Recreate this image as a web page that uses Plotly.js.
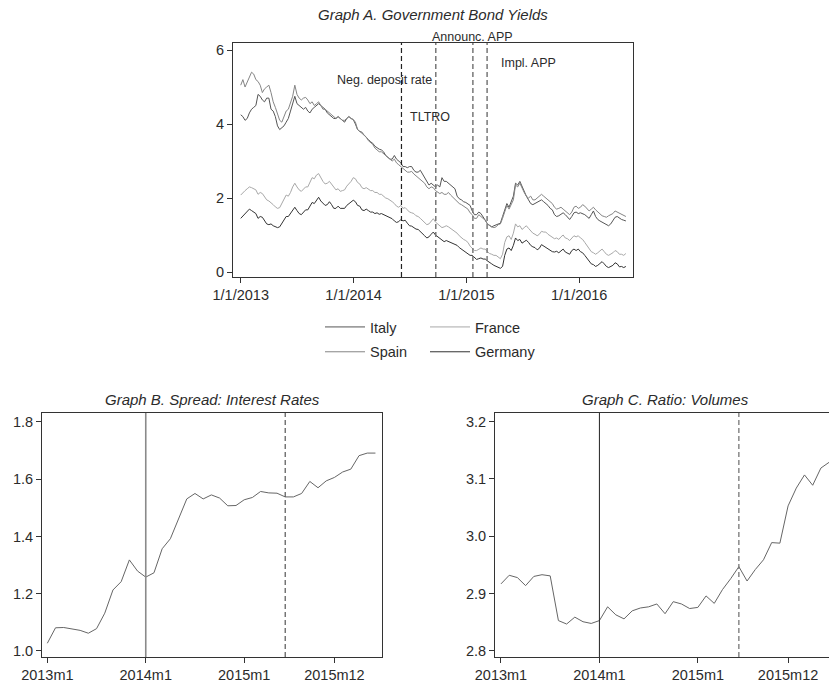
<!DOCTYPE html>
<html><head><meta charset="utf-8">
<script src="https://cdn.plot.ly/plotly-3.0.1.min.js"></script>
<style>html,body{margin:0;padding:0;overflow:hidden;background:#fff}#chart{width:845px;height:686px}</style>
</head><body><div id="chart"></div><script>
// ---------- Graph A: government bond yields (weekly readings from 2013-01-01) ----------
const yieldStart = '2013-01-01';
const italy = [
  4.25,4.20,4.10,4.15,4.30, 4.40,4.45,4.50,4.80, 4.75,4.65,4.60,4.70, 4.70,4.40,4.35,4.20,3.95, 3.85,3.90,3.95,4.05,
  4.15,4.35,4.55,4.75, 4.55,4.50,4.45,4.40,4.45, 4.35,4.30,4.40,4.45, 4.50,4.55,4.50,4.45, 4.40,4.30,4.25,4.20,4.15,
  4.15,4.20,4.15,4.10, 4.05,4.15,4.20,4.15,4.12,
  4.00,3.85,3.80,3.78, 3.70,3.65,3.58,3.52, 3.48,3.40,3.35,3.32, 3.30,3.25,3.15,3.10,3.05, 3.05,3.15,3.05,3.00,
  2.95,2.85,2.85,2.82, 2.85,2.85,2.75,2.70,2.70, 2.75,2.65,2.55,2.45, 2.35,2.40,2.35,2.30,2.35, 2.30,2.55,2.45,2.45,
  2.40,2.35,2.30,2.25, 2.05,1.98,1.95,1.90,1.88,
  1.85,1.80,1.65,1.55, 1.55,1.62,1.58,1.50, 1.40,1.30,1.25,1.22,1.25, 1.28,1.30,1.32,1.50, 1.70,1.85,1.75,1.90,
  2.05,2.40,2.35,2.45,2.30, 2.15,2.05,1.95,1.85, 1.82,1.85,1.88,1.92, 1.95,1.90,1.85,1.80,1.72, 1.68,1.55,1.50,1.52,
  1.55,1.60,1.55,1.48, 1.42,1.50,1.60,1.62,1.58,
  1.60,1.58,1.55,1.50, 1.45,1.55,1.65,1.50, 1.42,1.38,1.35,1.30,1.28, 1.25,1.30,1.40,1.48, 1.50,1.45,1.42,1.40,1.38];
const spain = [
  5.05,5.20,5.00,5.15,5.30, 5.40,5.35,5.20,5.15, 5.05,4.85,4.95,5.00, 5.05,4.85,4.60,4.45,4.25, 4.10,4.05,4.20,4.35,
  4.40,4.55,4.75,5.05, 4.80,4.70,4.65,4.70,4.72, 4.65,4.55,4.60,4.50, 4.55,4.60,4.50,4.40, 4.40,4.35,4.30,4.25,4.20,
  4.15,4.20,4.15,4.10, 4.10,4.15,4.20,4.15,4.12,
  4.05,3.85,3.80,3.75, 3.72,3.65,3.55,3.50, 3.45,3.35,3.30,3.25, 3.25,3.20,3.15,3.10,3.05, 3.00,3.05,2.95,2.90,
  2.85,2.80,2.75,2.70, 2.70,2.72,2.65,2.60,2.55, 2.50,2.45,2.40,2.30, 2.25,2.30,2.28,2.20,2.15, 2.12,2.15,2.10,2.10,
  2.15,2.08,2.02,1.98, 1.92,1.85,1.82,1.78,1.75,
  1.70,1.60,1.55,1.45, 1.45,1.55,1.50,1.45, 1.40,1.30,1.25,1.22,1.20, 1.22,1.28,1.30,1.45, 1.65,1.80,1.70,1.85,
  1.95,2.35,2.30,2.40,2.25, 2.15,2.05,2.00,2.05, 1.95,1.95,2.00,2.05, 2.10,2.05,2.00,1.95,1.90, 1.85,1.75,1.70,1.72,
  1.75,1.70,1.65,1.60, 1.55,1.62,1.75,1.78,1.72,
  1.75,1.82,1.78,1.72, 1.65,1.70,1.75,1.68, 1.62,1.58,1.52,1.50,1.48, 1.52,1.55,1.58,1.65, 1.62,1.58,1.55,1.52,1.50];
const france = [
  2.08,2.15,2.20,2.25,2.30, 2.28,2.25,2.22,2.10, 2.15,2.12,2.02,1.95, 1.92,1.88,1.82,1.76,1.72, 1.74,1.85,1.98,2.08,
  2.05,2.15,2.30,2.40, 2.30,2.22,2.18,2.25,2.30, 2.30,2.42,2.55,2.52, 2.62,2.66,2.55,2.45, 2.38,2.40,2.45,2.38,2.28,
  2.22,2.25,2.18,2.20, 2.22,2.32,2.38,2.45,2.55,
  2.52,2.42,2.38,2.28, 2.25,2.28,2.25,2.20, 2.20,2.15,2.15,2.10, 2.10,2.05,2.00,1.98,1.95, 1.90,1.85,1.78,1.75,
  1.80,1.72,1.74,1.68, 1.62,1.60,1.58,1.52,1.50, 1.45,1.40,1.35,1.28, 1.30,1.38,1.44,1.35,1.30, 1.25,1.20,1.22,1.25,
  1.22,1.18,1.15,1.10, 1.05,0.98,0.92,0.88,0.85,
  0.80,0.70,0.65,0.58, 0.58,0.62,0.65,0.62, 0.62,0.55,0.50,0.48,0.45, 0.45,0.40,0.36,0.48, 0.80,0.95,0.98,0.88,
  1.05,1.30,1.22,1.25,1.15, 1.20,1.25,1.18,1.10, 1.05,1.02,0.98,1.02, 1.10,1.08,1.08,1.02,0.98, 0.95,0.90,0.92,0.88,
  0.95,1.00,0.92,0.90, 0.85,0.92,0.98,0.95,0.98,
  0.92,0.88,0.80,0.72, 0.65,0.55,0.52,0.48, 0.52,0.58,0.62,0.55,0.48, 0.45,0.48,0.52,0.58, 0.55,0.48,0.48,0.45,0.50];
const germany = [
  1.45,1.52,1.58,1.64,1.70, 1.66,1.62,1.58,1.45, 1.50,1.48,1.38,1.30, 1.28,1.30,1.25,1.22,1.20, 1.22,1.32,1.42,1.50,
  1.50,1.58,1.68,1.75, 1.66,1.58,1.55,1.62,1.68, 1.68,1.78,1.88,1.85, 1.95,2.02,1.92,1.85, 1.80,1.82,1.90,1.82,1.72,
  1.72,1.78,1.72,1.72, 1.72,1.80,1.84,1.90,1.94,
  1.90,1.80,1.78,1.68, 1.66,1.70,1.66,1.62, 1.62,1.58,1.60,1.56, 1.58,1.55,1.52,1.50,1.48, 1.44,1.38,1.34,1.36,
  1.42,1.38,1.40,1.32, 1.25,1.24,1.20,1.16,1.15, 1.10,1.05,0.98,0.92, 0.95,1.02,1.08,1.00,0.95, 0.90,0.85,0.82,0.85,
  0.82,0.80,0.78,0.75, 0.72,0.66,0.62,0.58,0.54,
  0.50,0.45,0.45,0.38, 0.34,0.36,0.38,0.35, 0.35,0.30,0.25,0.22,0.18, 0.16,0.12,0.10,0.15, 0.45,0.62,0.65,0.58,
  0.72,0.92,0.85,0.88,0.78, 0.82,0.86,0.80,0.72, 0.68,0.66,0.60,0.64, 0.74,0.70,0.68,0.62,0.58, 0.55,0.54,0.56,0.52,
  0.58,0.62,0.54,0.52, 0.48,0.58,0.62,0.58,0.62,
  0.55,0.52,0.45,0.38, 0.32,0.22,0.20,0.15, 0.18,0.22,0.28,0.22,0.15, 0.12,0.14,0.18,0.25, 0.22,0.14,0.15,0.12,0.15];
const yieldDates = italy.map((_, i) => {
  const d = new Date(yieldStart + 'T00:00:00Z'); d.setUTCDate(d.getUTCDate() + 7 * i);
  return d.toISOString().slice(0, 10);
});
const eventDates = ['2014-06-05','2014-09-24','2015-01-22','2015-03-09'];
const eventLabels = ['Neg. deposit rate','TLTRO','Announc. APP','Impl. APP'];
const yieldTicks = ['2013-01-01','2014-01-01','2015-01-01','2016-01-01'];
const yieldTickText = ['1/1/2013','1/1/2014','1/1/2015','1/1/2016'];

// ---------- Graphs B and C: monthly ----------
const months = [];
for (let y = 2013; y <= 2016; y++) for (let m = 1; m <= 12; m++) { if (y === 2016 && m > 5) break; months.push(`${y}m${m}`); }
const spreadRates = [1.027,1.081,1.082,1.078,1.072,1.062,1.078,1.132,1.213,1.242,1.318,1.279,1.258,1.273,1.357,1.392,
  1.462,1.531,1.550,1.531,1.545,1.534,1.507,1.508,1.528,1.536,1.557,1.552,1.551,1.538,1.538,1.550,1.592,1.570,
  1.594,1.606,1.625,1.635,1.682,1.691,1.691];
const ratioVolumes = [2.917,2.932,2.928,2.914,2.930,2.933,2.931,2.853,2.847,2.859,2.851,2.848,2.853,2.877,2.863,2.856,
  2.870,2.875,2.877,2.882,2.865,2.886,2.882,2.874,2.876,2.896,2.883,2.907,2.926,2.947,2.922,2.942,2.959,2.989,
  2.988,3.053,3.084,3.107,3.089,3.119,3.129];
const monthTicks = ['2013m1','2014m1','2015m1','2015m12'];
const monthEvents = ['2014m1','2015m6'];

// ---------- layout helpers (pixel -> paper) ----------
const W = 845, H = 686;
const px = v => v / W, py = v => 1 - v / H;
const FONT = 'Liberation Sans, Arial, sans-serif';
const TXT = '#2b2b2b';

const lineTrace = (x, y, name, color, xa, ya, legend, group) => ({
  type: 'scatter', mode: 'lines', x, y, name, xaxis: xa, yaxis: ya,
  line: {color, width: 1}, showlegend: !!legend, legend: legend || 'legend',
  legendgroup: group || name, hoverinfo: 'skip'
});

// legend: first column (Italy, Spain), second column (France, Germany)
const data = [
  lineTrace(yieldDates, italy, 'Italy', '#555555', 'x', 'y', 'legend', 'r1'),
  lineTrace(yieldDates, france, 'France', '#a8a8a8', 'x', 'y', 'legend2', 'r1b'),
  lineTrace(yieldDates, spain, 'Spain', '#858585', 'x', 'y', 'legend', 'r2'),
  lineTrace(yieldDates, germany, 'Germany', '#333333', 'x', 'y', 'legend2', 'r2b'),
  lineTrace(months, spreadRates, 'Spread', '#666666', 'x2', 'y2'),
  lineTrace(months, ratioVolumes, 'Ratio', '#666666', 'x3', 'y3')
];

const axisBase = {
  showline: true, mirror: true, linecolor: '#333', linewidth: 1,
  ticks: 'outside', ticklen: 5, tickcolor: '#333', showgrid: false, zeroline: false,
  tickfont: {family: FONT, size: 14.5, color: TXT}, fixedrange: true
};

const vline = (x, xref, yref, color, dash, width) => ({
  type: 'line', xref, yref, x0: x, x1: x, y0: 0, y1: 1, layer: 'above',
  line: {color, width: width || 1.2, dash: dash || 'solid'}
});

const shapes = [
  vline(eventDates[0], 'x', 'y domain', '#222', '5px,3px', 1.2),
  vline(eventDates[1], 'x', 'y domain', '#777', '5px,3px', 1.5),
  vline(eventDates[2], 'x', 'y domain', '#777', '5px,3px', 1.5),
  vline(eventDates[3], 'x', 'y domain', '#777', '5px,3px', 1.5),
  vline(monthEvents[0], 'x2', 'y2 domain', '#8a8a8a', 'solid', 1.6),
  vline(monthEvents[1], 'x2', 'y2 domain', '#555', '5px,3px', 1.2),
  vline(monthEvents[0], 'x3', 'y3 domain', '#222', 'solid', 1),
  vline(monthEvents[1], 'x3', 'y3 domain', '#777', '5px,3px', 1.3)
];

const ann = (text, x, y, size, opts) => Object.assign({
  text, x: px(x), y: py(y), xref: 'paper', yref: 'paper', showarrow: false,
  xanchor: 'center', yanchor: 'middle', font: {family: FONT, size, color: TXT}
}, opts || {});

const annotations = [
  ann('<i>Graph A. Government Bond Yields</i>', 433, 14, 15),
  ann('<i>Graph B. Spread: Interest Rates</i>', 212, 399, 15),
  ann('<i>Graph C. Ratio: Volumes</i>', 665, 399, 15),
  ann(eventLabels[2], 473, 37, 12.5),
  ann(eventLabels[3], 499, 63, 12.5, {xanchor: 'left'}),
  ann(eventLabels[0], 434, 80, 12.5, {xanchor: 'right'}),
  ann(eventLabels[1], 430, 117, 12.5)
];

const legendBase = {
  orientation: 'v', xanchor: 'left', yanchor: 'middle', y: py(339.5),
  font: {family: FONT, size: 14.5, color: TXT},
  itemwidth: 40, bgcolor: 'rgba(0,0,0,0)', borderwidth: 0, tracegroupgap: 3
};

const layout = {
  width: W, height: H, margin: {l: 0, r: 0, t: 0, b: 0},
  paper_bgcolor: '#fff', plot_bgcolor: '#fff',
  font: {family: FONT, color: TXT},
  xaxis: Object.assign({}, axisBase, {
    domain: [px(233), px(633)], anchor: 'y', type: 'date',
    range: ['2012-12-07', '2016-06-23'], tickmode: 'array', tickvals: yieldTicks, ticktext: yieldTickText
  }),
  yaxis: Object.assign({}, axisBase, {
    domain: [py(277), py(43)], anchor: 'x', range: [-0.135, 6.19], tickmode: 'array', tickvals: [0, 2, 4, 6]
  }),
  xaxis2: Object.assign({}, axisBase, {
    domain: [px(42), px(382)], anchor: 'y2', type: 'category', categoryarray: months,
    range: [-0.65, 40.8], tickmode: 'array', tickvals: monthTicks, ticktext: monthTicks
  }),
  yaxis2: Object.assign({}, axisBase, {
    domain: [py(657), py(413)], anchor: 'x2', range: [0.979, 1.831], tickmode: 'array',
    tickvals: [1.0, 1.2, 1.4, 1.6, 1.8], ticktext: ['1.0', '1.2', '1.4', '1.6', '1.8']
  }),
  xaxis3: Object.assign({}, axisBase, {
    domain: [px(495), px(835)], anchor: 'y3', type: 'category', categoryarray: months,
    range: [-0.73, 40.72], tickmode: 'array', tickvals: monthTicks, ticktext: monthTicks
  }),
  yaxis3: Object.assign({}, axisBase, {
    domain: [py(657), py(413)], anchor: 'x3', range: [2.7895, 3.215], tickmode: 'array',
    tickvals: [2.8, 2.9, 3.0, 3.1, 3.2], ticktext: ['2.8', '2.9', '3.0', '3.1', '3.2']
  }),
  legend: Object.assign({}, legendBase, {x: px(320)}),
  legend2: Object.assign({}, legendBase, {x: px(425)}),
  shapes, annotations
};

Plotly.newPlot('chart', data, layout, {staticPlot: true, displayModeBar: false});
</script></body></html>
